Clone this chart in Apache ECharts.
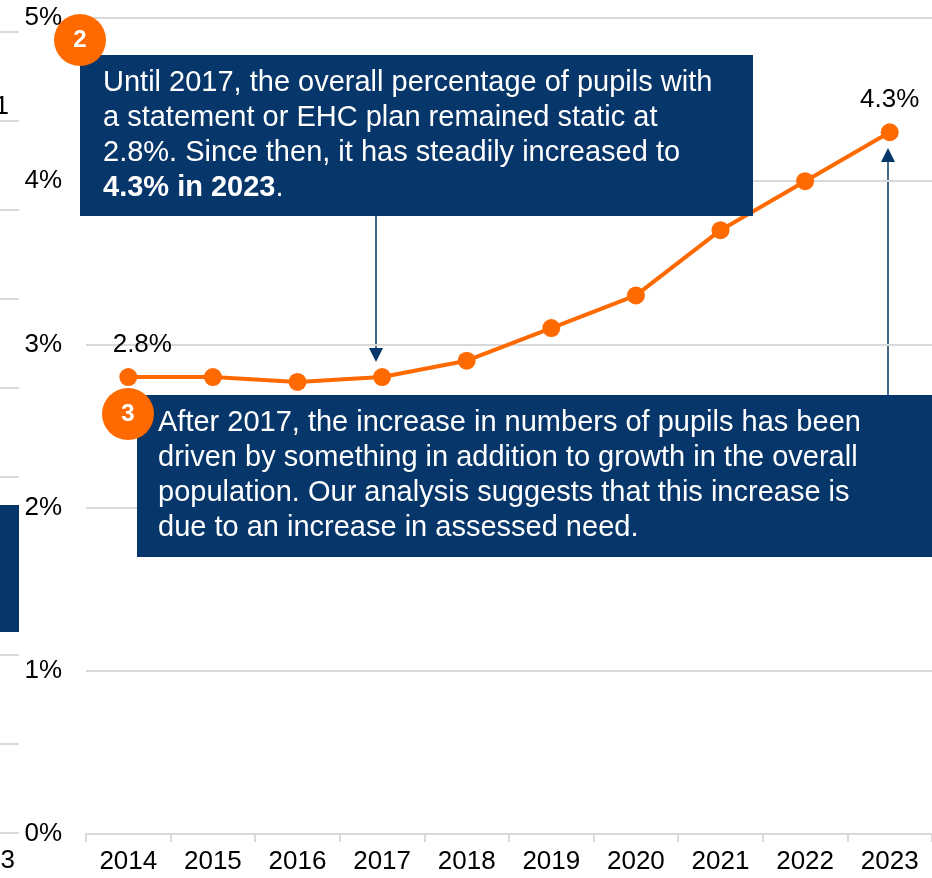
<!DOCTYPE html>
<html>
<head>
<meta charset="utf-8">
<style>
  html, body { margin: 0; padding: 0; background: #fff; }
  #chart { width: 932px; height: 878px; }
</style>
<script src="https://cdn.jsdelivr.net/npm/echarts@6/dist/echarts.min.js"></script>
</head>
<body>
<div id="chart"></div>
<script>
"use strict";
var years = ['2014', '2015', '2016', '2017', '2018', '2019', '2020', '2021', '2022', '2023'];
var pupilPct = [2.8, 2.8, 2.77, 2.8, 2.9, 3.1, 3.3, 3.7, 4.0, 4.3];
var prevYears = ['2013'];

var orange = '#ff6a00';
var navy = '#07366a';
var font = '"Liberation Sans", Arial, sans-serif';

// only first and last points carry a value label
var lineData = pupilPct.map(function (v, i) {
    var item = {value: v};
    if (i === 0) {
        item.label = {show: true, offset: [14, 0]};
    } else if (i === pupilPct.length - 1) {
        item.label = {show: true};
    }
    return item;
});

function arrow(x, y1, y2) {
    var up = y2 < y1;
    var head = up ? 14 : -14;
    return [
        {type: 'line', shape: {x1: x, y1: y1, x2: x, y2: y2 + head}, style: {stroke: navy, lineWidth: 1.5}},
        {type: 'polygon', shape: {points: [[x, y2], [x - 7, y2 + head], [x + 7, y2 + head]]}, style: {fill: navy}}
    ];
}

function badge(cx, cy, num) {
    return [
        {type: 'circle', shape: {cx: cx, cy: cy, r: 26}, style: {fill: orange}, z: 110},
        {type: 'text', x: cx, y: cy, z: 111, style: {
            text: num, fill: '#fff', font: 'bold 24px ' + font, align: 'center', verticalAlign: 'middle'
        }}
    ];
}

var myChart = echarts.init(document.getElementById('chart'));

var graphics = [
    // box cut off on the left edge (from the neighbouring chart)
    {type: 'rect', shape: {x: -10, y: 505, width: 29, height: 127}, style: {fill: navy}, z: 100},
    {type: 'text', x: 9, y: 107, style: {text: '1', fill: '#000', font: '26px ' + font, align: 'right', verticalAlign: 'middle'}},
    // callout 2
    {type: 'rect', shape: {x: 80, y: 55, width: 673, height: 161}, style: {fill: navy}, z: 100},
    {type: 'text', x: 103, y: 65, z: 101, style: {
        text: 'Until 2017, the overall percentage of pupils with\na statement or EHC plan remained static at\n2.8%. Since then, it has steadily increased to\n{b|4.3% in 2023}.',
        fill: '#fff', font: '29px ' + font, lineHeight: 35,
        rich: {b: {fontWeight: 'bold', fill: '#fff', fontSize: 29, fontFamily: font, lineHeight: 35}}
    }},
    // callout 3
    {type: 'rect', shape: {x: 137, y: 395, width: 800, height: 162}, style: {fill: navy}, z: 100},
    {type: 'text', x: 158, y: 405, z: 101, style: {
        text: 'After 2017, the increase in numbers of pupils has been\ndriven by something in addition to growth in the overall\npopulation. Our analysis suggests that this increase is\ndue to an increase in assessed need.',
        fill: '#fff', font: '29px ' + font, lineHeight: 35
    }}
];
graphics = graphics.concat(arrow(376, 216, 362), arrow(888, 395, 148), badge(80, 40, '2'), badge(128, 414, '3'));

var option = {
    animation: false,
    grid: [
        {left: 86, right: 0, top: 18, bottom: 44, outerBoundsMode: 'none'},
        {left: -47, width: 66, top: 32, bottom: 45, outerBoundsMode: 'none'}
    ],
    xAxis: [{
        type: 'category',
        data: years,
        boundaryGap: true,
        axisLine: {lineStyle: {color: '#d9d9d9', width: 2}},
        axisTick: {show: true, length: 8, lineStyle: {color: '#d9d9d9', width: 2}},
        axisLabel: {color: '#000', fontSize: 26, fontFamily: font, margin: 15}
    }, {
        gridIndex: 1,
        type: 'category',
        data: prevYears,
        axisLine: {show: false},
        axisTick: {show: false},
        axisLabel: {color: '#000', fontSize: 26, fontFamily: font, margin: 15}
    }],
    yAxis: [{
        type: 'value',
        min: 0,
        max: 5,
        interval: 1,
        axisLine: {show: false},
        axisTick: {show: false},
        axisLabel: {formatter: '{value}%', color: '#000', fontSize: 26, fontFamily: font, margin: 24},
        splitLine: {lineStyle: {color: '#d9d9d9', width: 2}}
    }, {
        gridIndex: 1,
        type: 'value',
        min: 0,
        max: 9,
        interval: 1,
        axisLine: {show: false},
        axisTick: {show: false},
        axisLabel: {show: false},
        splitLine: {lineStyle: {color: '#d9d9d9', width: 2}}
    }],
    series: [{
        type: 'line',
        data: lineData,
        symbol: 'circle',
        symbolSize: 18,
        lineStyle: {color: orange, width: 4},
        itemStyle: {color: orange},
        label: {
            show: false,
            position: 'top',
            distance: 10,
            formatter: '{c}%',
            color: '#000',
            fontSize: 26,
            fontFamily: font
        }
    }],
    graphic: graphics
};

myChart.setOption(option);
</script>
</body>
</html>
